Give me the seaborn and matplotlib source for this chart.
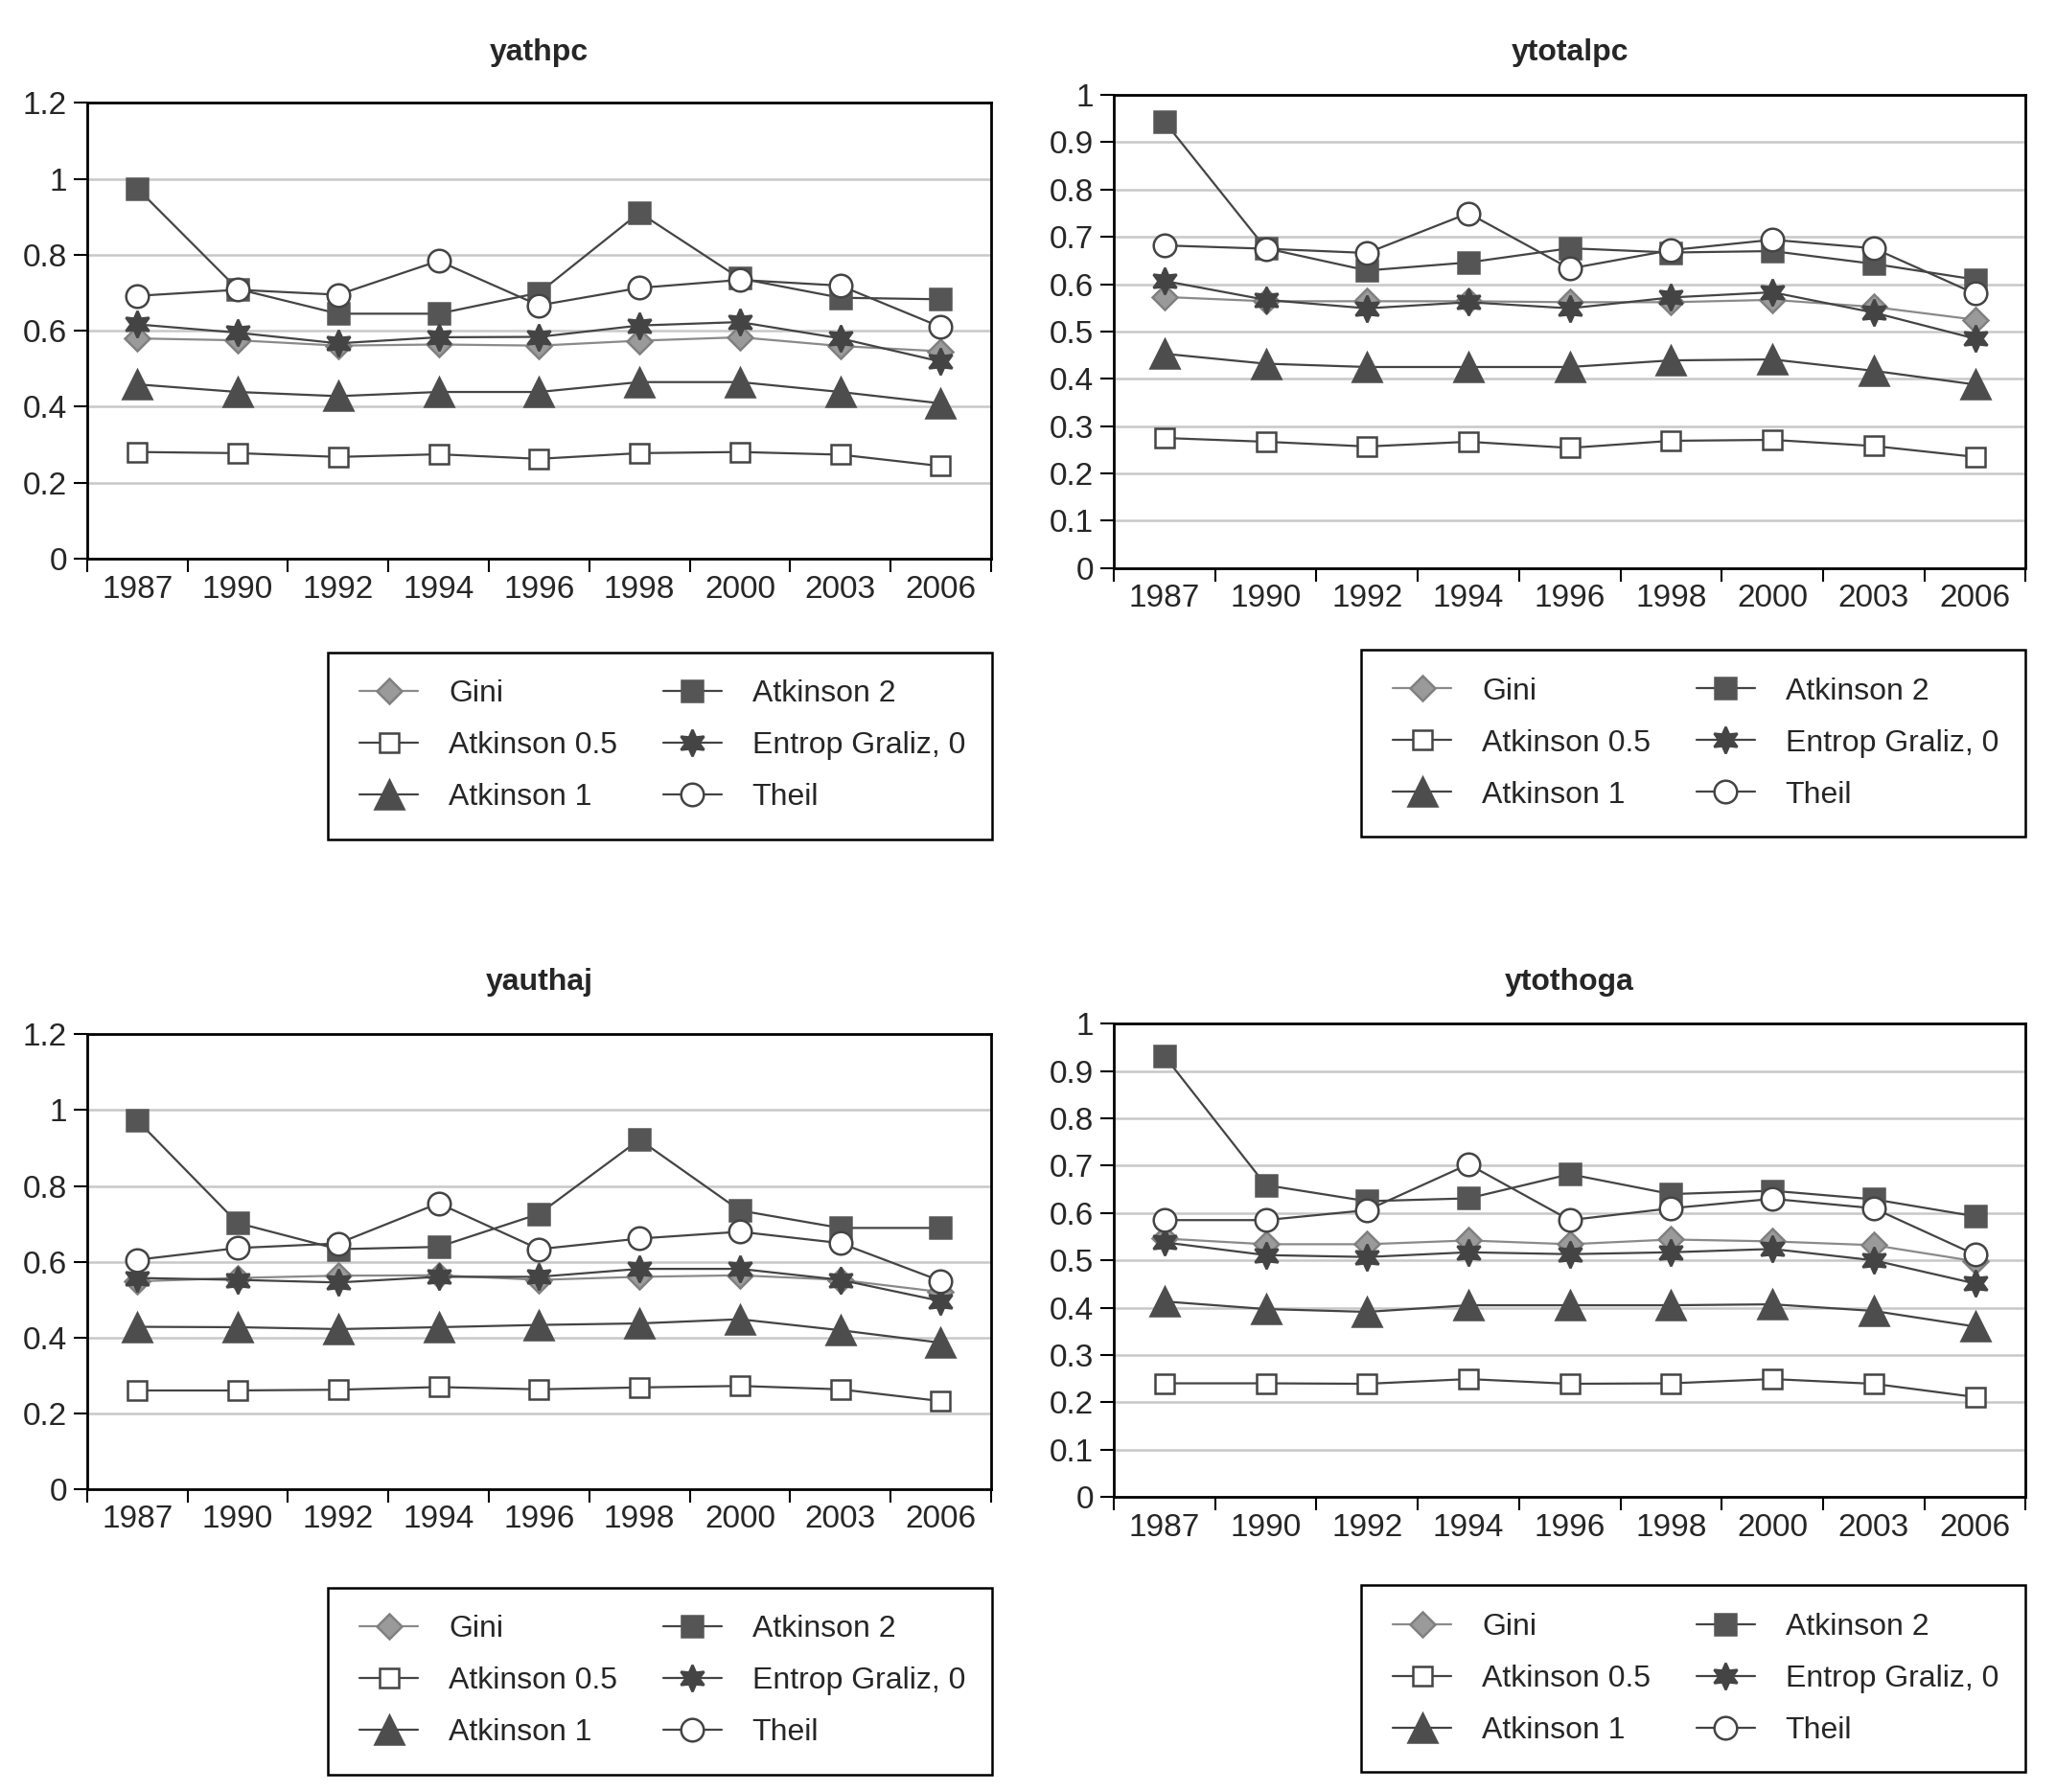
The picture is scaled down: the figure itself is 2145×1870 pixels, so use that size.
import numpy as np
import pandas as pd
import matplotlib
matplotlib.use("Agg")
import matplotlib.pyplot as plt
from matplotlib.patches import Rectangle
import seaborn as sns

# 年次 (categorical x axis)
years = ["1987", "1990", "1992", "1994", "1996", "1998", "2000", "2003", "2006"]
series_names = ["Gini", "Atkinson 0.5", "Atkinson 1", "Atkinson 2", "Entrop Graliz, 0", "Theil"]

# yathpc
yathpc_gini = [0.580, 0.575, 0.561, 0.564, 0.561, 0.574, 0.583, 0.560, 0.546]
yathpc_atk05 = [0.281, 0.278, 0.268, 0.275, 0.263, 0.278, 0.281, 0.274, 0.244]
yathpc_atk1 = [0.459, 0.439, 0.428, 0.439, 0.439, 0.465, 0.465, 0.439, 0.409]
yathpc_atk2 = [0.975, 0.710, 0.645, 0.645, 0.700, 0.911, 0.738, 0.687, 0.683]
yathpc_entrop = [0.617, 0.595, 0.567, 0.583, 0.584, 0.614, 0.623, 0.580, 0.519]
yathpc_theil = [0.692, 0.708, 0.695, 0.784, 0.667, 0.713, 0.734, 0.719, 0.610]

# ytotalpc
ytotalpc_gini = [0.573, 0.564, 0.564, 0.564, 0.562, 0.562, 0.567, 0.552, 0.525]
ytotalpc_atk05 = [0.275, 0.267, 0.257, 0.267, 0.254, 0.269, 0.271, 0.258, 0.235]
ytotalpc_atk1 = [0.453, 0.432, 0.425, 0.425, 0.425, 0.439, 0.441, 0.417, 0.388]
ytotalpc_atk2 = [0.944, 0.676, 0.629, 0.646, 0.676, 0.667, 0.670, 0.643, 0.610]
ytotalpc_entrop = [0.607, 0.567, 0.549, 0.562, 0.549, 0.572, 0.583, 0.540, 0.485]
ytotalpc_theil = [0.682, 0.675, 0.666, 0.750, 0.633, 0.672, 0.694, 0.676, 0.580]

# yauthaj
yauthaj_gini = [0.548, 0.557, 0.563, 0.564, 0.552, 0.560, 0.564, 0.552, 0.520]
yauthaj_atk05 = [0.260, 0.260, 0.262, 0.269, 0.263, 0.268, 0.272, 0.263, 0.232]
yauthaj_atk1 = [0.428, 0.427, 0.422, 0.427, 0.433, 0.437, 0.448, 0.419, 0.386]
yauthaj_atk2 = [0.973, 0.702, 0.633, 0.639, 0.726, 0.922, 0.735, 0.689, 0.689]
yauthaj_entrop = [0.557, 0.552, 0.545, 0.560, 0.560, 0.581, 0.581, 0.552, 0.496]
yauthaj_theil = [0.605, 0.636, 0.648, 0.754, 0.633, 0.661, 0.679, 0.649, 0.549]

# ytothoga
ytothoga_gini = [0.546, 0.534, 0.534, 0.542, 0.534, 0.544, 0.540, 0.532, 0.498]
ytothoga_atk05 = [0.240, 0.240, 0.239, 0.249, 0.239, 0.240, 0.249, 0.239, 0.211]
ytothoga_atk1 = [0.413, 0.397, 0.391, 0.405, 0.405, 0.405, 0.407, 0.393, 0.360]
ytothoga_atk2 = [0.932, 0.659, 0.625, 0.631, 0.682, 0.640, 0.647, 0.629, 0.593]
ytothoga_entrop = [0.538, 0.511, 0.507, 0.517, 0.513, 0.517, 0.524, 0.500, 0.451]
ytothoga_theil = [0.585, 0.585, 0.606, 0.703, 0.585, 0.610, 0.630, 0.610, 0.512]

panels = [
    ("yathpc", [yathpc_gini, yathpc_atk05, yathpc_atk1, yathpc_atk2, yathpc_entrop, yathpc_theil], 1.2, 0.2),
    ("ytotalpc", [ytotalpc_gini, ytotalpc_atk05, ytotalpc_atk1, ytotalpc_atk2, ytotalpc_entrop, ytotalpc_theil], 1.0, 0.1),
    ("yauthaj", [yauthaj_gini, yauthaj_atk05, yauthaj_atk1, yauthaj_atk2, yauthaj_entrop, yauthaj_theil], 1.2, 0.2),
    ("ytothoga", [ytothoga_gini, ytothoga_atk05, ytothoga_atk1, ytothoga_atk2, ytothoga_entrop, ytothoga_theil], 1.0, 0.1),
]

sns.set_theme(style="white")
plt.rcParams["font.family"] = ["Liberation Sans", "DejaVu Sans"]

# スタイル
star6 = (6, 1, 0)
styles = {
    "Gini": dict(marker="D", ms=13, mfc="#9a9a9a", mec="#808080", color="#8a8a8a"),
    "Atkinson 0.5": dict(marker="s", ms=15, mfc="white", mec="#444444", color="#444444"),
    "Atkinson 1": dict(marker="^", ms=21, mfc="#4d4d4d", mec="#4d4d4d", color="#444444"),
    "Atkinson 2": dict(marker="s", ms=16, mfc="#555555", mec="#555555", color="#444444"),
    "Entrop Graliz, 0": dict(marker=star6, ms=20, mfc="#444444", mec="#444444", color="#444444"),
    "Theil": dict(marker="o", ms=17, mfc="white", mec="#444444", color="#444444"),
}

fig = plt.figure(figsize=(21.45, 18.7), dpi=100)

# axes positions (left, bottom, width, height) / legend boxes / title y
axes_pos = [
    (0.0423, 0.6882, 0.4397, 0.2544),
    (0.5417, 0.6830, 0.4436, 0.2640),
    (0.0423, 0.1691, 0.4397, 0.2537),
    (0.5417, 0.1647, 0.4436, 0.2640),
]
legend_box = [
    (0.1596, 0.5316, 0.3231, 0.1044),
    (0.6622, 0.5330, 0.3231, 0.1045),
    (0.1596, 0.0096, 0.3231, 0.1044),
    (0.6622, 0.0110, 0.3231, 0.1044),
]
title_y = [0.9706, 0.9706, 0.452, 0.452]

x = np.arange(len(years))

for i, (title, vals, ymax, step) in enumerate(panels):
    ax = fig.add_axes(axes_pos[i])
    df = pd.DataFrame({"x": np.tile(x, len(series_names)),
                       "value": np.concatenate(vals),
                       "series": np.repeat(series_names, len(years))})
    for name in series_names:
        st = styles[name]
        sub = df[df["series"] == name]
        sns.lineplot(data=sub, x="x", y="value", ax=ax, label=name,
                     color=st["color"], linewidth=1.6, marker=st["marker"],
                     markersize=st["ms"], markerfacecolor=st["mfc"],
                     markeredgecolor=st["mec"], markeredgewidth=1.8)

    ax.set_xlim(-0.5, len(years) - 0.5)
    ax.set_ylim(0, ymax)
    yt = np.round(np.arange(0, ymax + step / 2, step), 2)
    ax.set_yticks(yt)
    ax.set_yticklabels(["%g" % v for v in yt], fontsize=24)
    ax.set_xticks(x)
    ax.set_xticklabels(years, fontsize=24)
    ax.set_xticks(np.arange(-0.5, len(years)), minor=True)
    ax.tick_params(axis="x", which="major", bottom=False, length=0, pad=12)
    ax.tick_params(axis="x", which="minor", bottom=True, length=10, width=1.5, color="black", direction="out")
    ax.tick_params(axis="y", left=True, length=10, width=1.5, color="black", direction="out", pad=5)
    ax.set_xlabel("")
    ax.set_ylabel("")
    ax.grid(axis="y", color="#c8c8c8", linewidth=1.8)
    ax.set_axisbelow(True)
    for sp in ax.spines.values():
        sp.set_color("black")
        sp.set_linewidth(2)

    # タイトル
    cx = axes_pos[i][0] + axes_pos[i][2] / 2
    fig.text(cx, title_y[i], title, ha="center", va="center", fontsize=23, fontweight="bold")

    # 凡例 (枠は別に描く)
    bx, by, bw, bh = legend_box[i]
    fig.patches.append(Rectangle((bx, by), bw, bh, transform=fig.transFigure,
                                 fill=False, edgecolor="black", linewidth=1.8))
    handles, labels = ax.get_legend_handles_labels()
    ax.legend_.remove()
    fig.legend(handles, labels, loc="center left",
               bbox_to_anchor=(bx + 0.0154, by + bh / 2),
               bbox_transform=fig.transFigure, ncol=2, fontsize=23,
               frameon=False, borderpad=0, borderaxespad=0,
               handlelength=1.9, handletextpad=1.0,
               labelspacing=0.75, columnspacing=1.5)

fig.savefig("out.png", dpi=100)
